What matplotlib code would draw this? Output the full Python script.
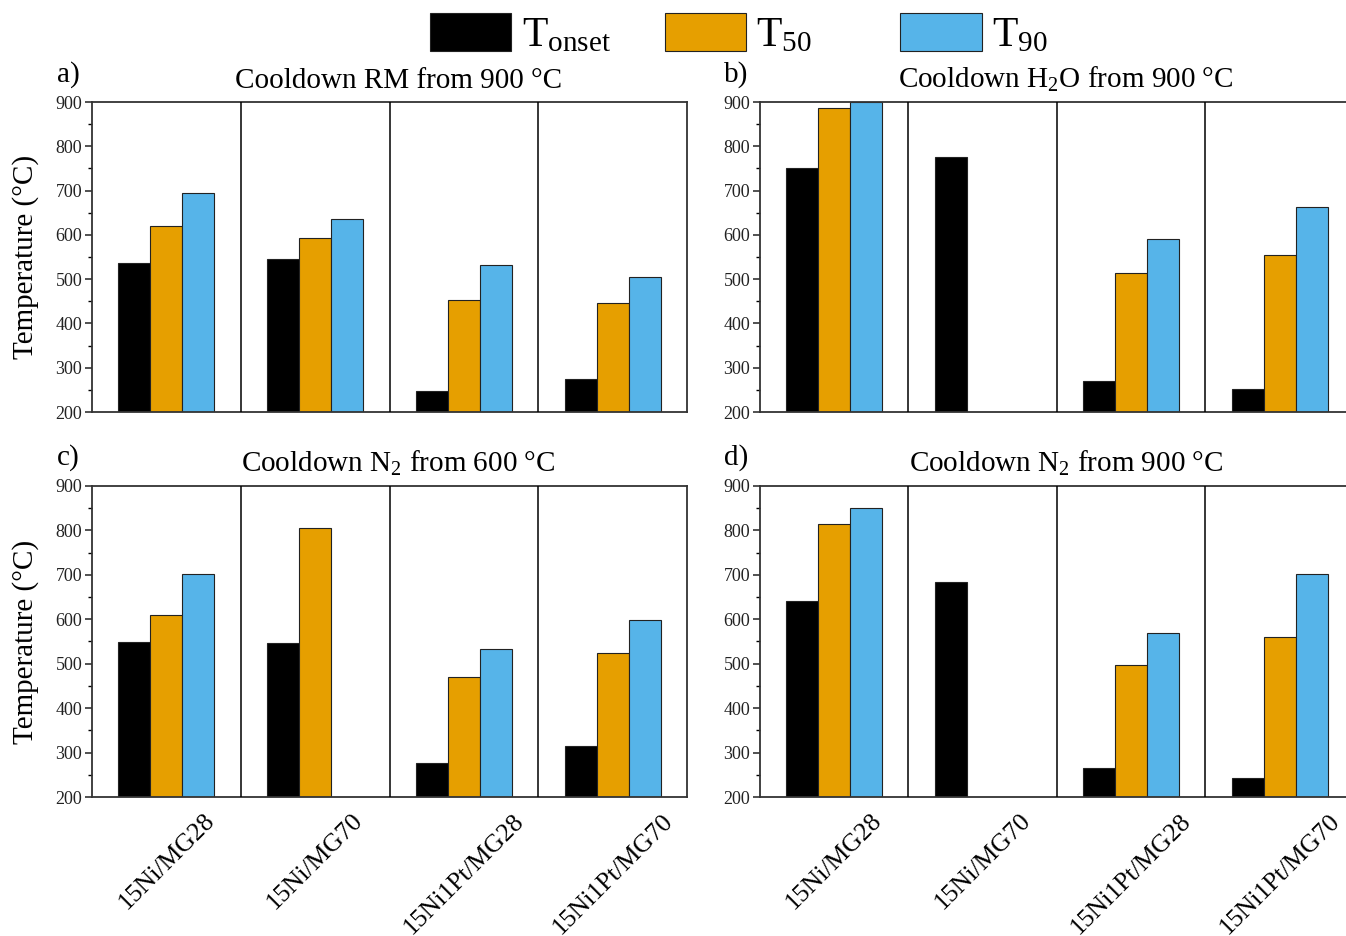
import numpy as np
import matplotlib
matplotlib.use("Agg")
import matplotlib.pyplot as plt
from matplotlib.patches import Patch

plt.rcParams['font.family'] = ['Liberation Serif', 'DejaVu Serif']
plt.rcParams['mathtext.fontset'] = 'custom'
plt.rcParams['mathtext.rm'] = 'Liberation Serif'
plt.rcParams['mathtext.it'] = 'Liberation Serif:italic'

# data (NaN = not reached)
samples = ['15Ni/MG28', '15Ni/MG70', '15Ni1Pt/MG28', '15Ni1Pt/MG70']
series = ['T$_{\\mathrm{onset}}$', 'T$_{50}$', 'T$_{90}$']
colors = ['#000000', '#E69F00', '#56B4E9']

titles = ['Cooldown RM from 900 °C', 'Cooldown H$_2$O from 900 °C',
          'Cooldown N$_2$ from 600 °C', 'Cooldown N$_2$ from 900 °C']
letters = ['a)', 'b)', 'c)', 'd)']

rm_900 = [[536, 546, 248, 275],
          [620, 592, 454, 447],
          [695, 635, 532, 505]]
h2o_900 = [[750, 775, 270, 253],
           [887, np.nan, 514, 554],
           [900, np.nan, 591, 663]]
n2_600 = [[548, 546, 276, 314],
          [610, 805, 469, 524],
          [703, np.nan, 534, 599]]
n2_900 = [[641, 683, 266, 243],
          [814, np.nan, 498, 560],
          [851, np.nan, 568, 701]]
panels = [rm_900, h2o_900, n2_600, n2_900]

fig = plt.figure(figsize=(13.46, 9.36), dpi=100)

# axes boxes in figure fractions [left, bottom, width, height]
boxes = [[0.0684, 0.5598, 0.442, 0.3312],
         [0.5646, 0.5598, 0.4413, 0.3312],
         [0.0684, 0.1485, 0.442, 0.3323],
         [0.5646, 0.1485, 0.4413, 0.3323]]

x = np.arange(len(samples))
w = 0.215

for k in range(4):
    ax = fig.add_axes(boxes[k])
    vals = np.array(panels[k], dtype=float)
    for s in range(3):
        ax.bar(x + (s - 1) * w, vals[s], w, color=colors[s],
               edgecolor='#222222', linewidth=0.8, zorder=2)
    for sep in [0.5, 1.5, 2.5]:
        ax.axvline(sep, color='black', linewidth=1.1, zorder=3)

    ax.set_xlim(-0.5, 3.5)
    ax.set_ylim(200, 900)
    ax.set_yticks(np.arange(200, 901, 100))
    ax.set_yticks(np.arange(250, 900, 100), minor=True)
    ax.tick_params(axis='y', which='major', direction='out', length=5,
                   width=1.1, labelsize=13, pad=2, colors='#222222')
    ax.tick_params(axis='y', which='minor', direction='out', length=3, width=1)
    ax.set_xticks(x)
    ax.tick_params(axis='x', length=0, pad=9)
    if k >= 2:
        ax.set_xticklabels(samples, rotation=45, ha='center', fontsize=18.5)
    else:
        ax.set_xticklabels([])
    for sp in ax.spines.values():
        sp.set_linewidth(1.3)
        sp.set_color('#333333')

    ax.set_title(titles[k], fontsize=21, pad=10, x=0.515)
    ax.text(-0.04, 1.09, letters[k], transform=ax.transAxes,
            fontsize=21, ha='center', va='center')
    if k % 2 == 0:
        ax.set_ylabel('Temperature (°C)', fontsize=21)
        ax.yaxis.set_label_coords(-0.09, 0.5)

# legend: one entry per slot, placed like the original
handles = [Patch(facecolor=colors[i], edgecolor='#222222', linewidth=0.8)
           for i in range(3)]
slots = [0.304, 0.4784, 0.6534]
for i in range(3):
    fig.legend([handles[i]], [series[i]], loc='upper left',
               bbox_to_anchor=(slots[i], 1.008), frameon=False, fontsize=30,
               borderpad=0, handlelength=1.95, handleheight=1.0,
               handletextpad=0.25)

fig.savefig('out.png', dpi=100)
